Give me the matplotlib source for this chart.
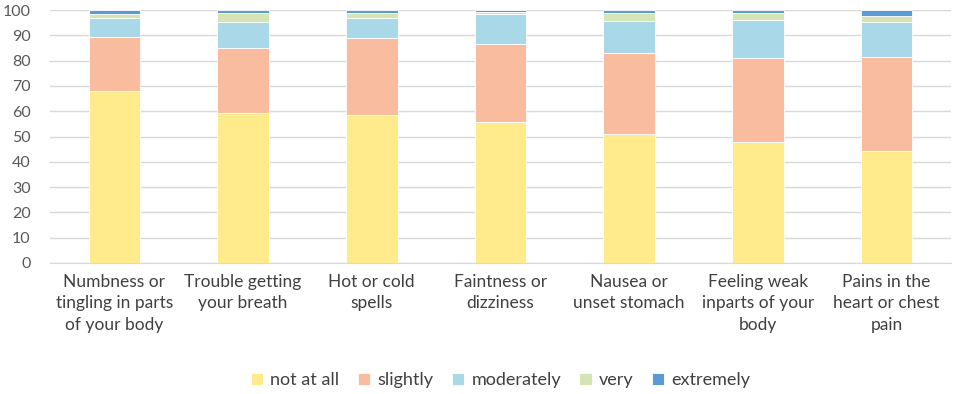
import matplotlib.pyplot as plt
import numpy as np

categories = ["Numbness or\ntingling in parts\nof your body", "Trouble getting\nyour breath",
              "Hot or cold\nspells", "Faintness or\ndizziness", "Nausea or\nunset stomach",
              "Feeling weak\ninparts of your\nbody", "Pains in the\nheart or chest\npain"]
not_at_all = [68.0, 59.3, 58.5, 55.8, 50.8, 48.0, 44.3]
slightly = [21.4, 25.7, 30.6, 30.6, 32.1, 32.9, 37.0]
moderately = [7.6, 10.4, 7.9, 12.2, 12.7, 15.1, 14.1]
very = [1.4, 3.6, 2.0, 0.5, 3.1, 2.7, 2.2]
extremely = [1.6, 1.0, 1.0, 0.9, 1.3, 1.3, 2.4]

series = [("not at all", not_at_all, "#FFEB8C"),
          ("slightly", slightly, "#F9BC9F"),
          ("moderately", moderately, "#A9D8E8"),
          ("very", very, "#D5E4B4"),
          ("extremely", extremely, "#5B9BD5")]

plt.rcParams['font.family'] = ['Lato', 'DejaVu Sans']
fig = plt.figure(figsize=(9.57, 3.94), dpi=100)
ax = fig.add_axes([50/957, 131/394, 901/957, 253/394])

x = np.arange(len(categories))
bottom = np.zeros(len(categories))
for name, vals, col in series:
    ax.bar(x, vals, 0.4, bottom=bottom, color=col, label=name, edgecolor="white", linewidth=0.6, zorder=3)
    bottom += np.array(vals)

ax.set_xlim(-0.5, len(categories) - 0.5)
ax.set_ylim(0, 100)
ax.set_yticks(range(0, 101, 10))
ax.grid(axis="y", color="#D9D9D9", linewidth=1, zorder=0)
for s in ["top", "right", "left"]:
    ax.spines[s].set_visible(False)
ax.spines["bottom"].set_color("#D9D9D9")
ax.tick_params(axis="y", length=0, labelsize=11.5, labelcolor="#595959", pad=14)
ax.tick_params(axis="x", length=0, labelsize=12.5, labelcolor="#404040", pad=8)
ax.set_xticks(x)
ax.set_xticklabels(categories, linespacing=1.4)

ax.legend(loc="center", bbox_to_anchor=(0.5, -0.463), ncol=5, frameon=False,
          fontsize=13, handlelength=0.7, handleheight=0.7, handletextpad=0.4,
          columnspacing=1.0, labelcolor="#404040")

fig.savefig("out.png", dpi=100)
